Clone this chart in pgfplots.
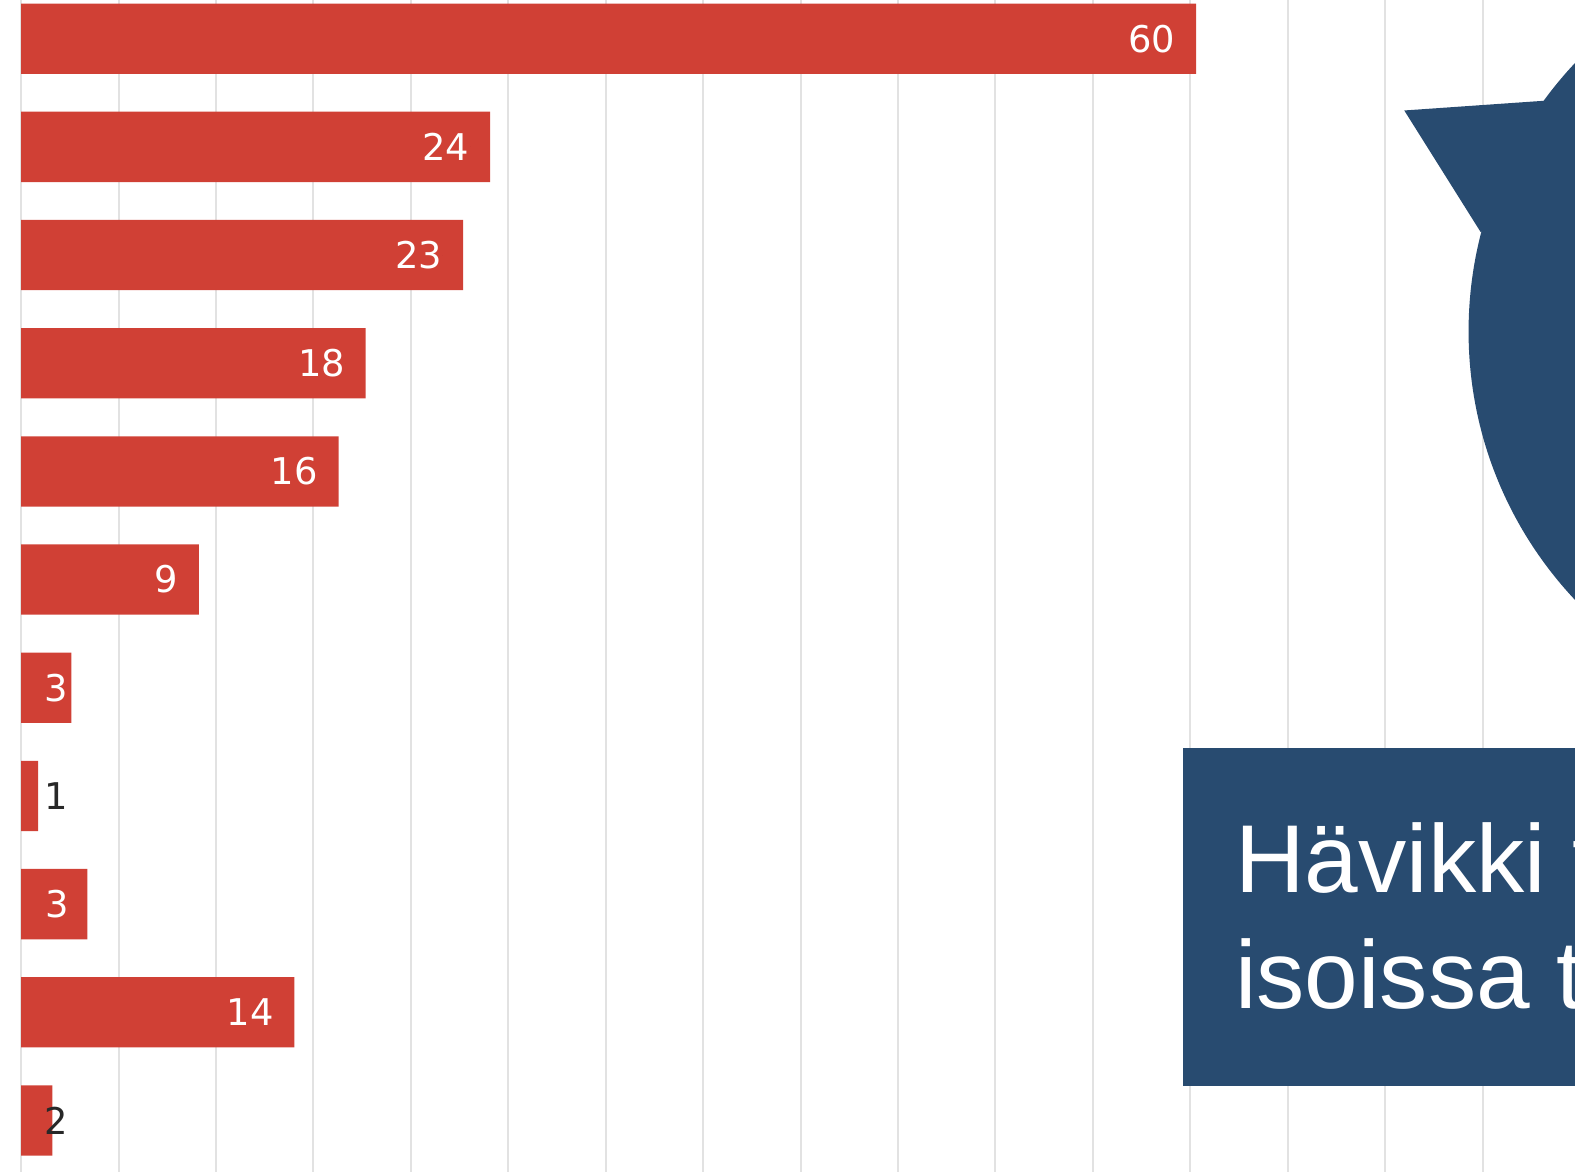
\documentclass[border=0pt]{standalone}
\usepackage{pgfplots}
\pgfplotsset{compat=1.18}
\usepackage{fontspec}
\setmainfont{DejaVu Sans}
\newfontfamily\arialfont{Liberation Sans}
\definecolor{barred}{RGB}{208,64,53}
\definecolor{navy}{RGB}{40,75,112}
\definecolor{gridgray}{RGB}{226,226,226}
\definecolor{darktext}{RGB}{40,40,40}
\begin{document}
\begin{tikzpicture}
\path[use as bounding box] (0,0) rectangle (470.4pt,350.1pt);
\clip (0,0) rectangle (470.4pt,350.1pt);
\begin{axis}[
  at={(0,0)}, anchor=south west,
  scale only axis, width=470.4pt, height=350.1pt,
  xmin=-1.0825, xmax=79.742,
  ymin=-0.3575, ymax=10.478,
  y dir=reverse,
  axis line style={draw=none},
  tick style={draw=none},
  xtick={0,5,...,75}, xticklabels={},
  ytick=\empty,
  xmajorgrids,
  major grid style={gridgray, line width=0.6pt},
  clip=false,
]
\addplot[xbar, bar width=21pt, fill=barred, draw=none] coordinates {
  (60.3,0) (24.07,1) (22.68,2) (17.68,3) (16.29,4) (9.12,5)
  (2.58,6) (0.88,7) (3.40,8) (14.02,9) (1.60,10)};
% labels inside the bar end
\addplot[only marks, mark=*, mark size=0pt, mark options={draw=none},
  point meta=explicit symbolic, nodes near coords,
  nodes near coords style={anchor=east, text=white, inner sep=0pt,
    font=\fontsize{11}{13}\selectfont}]
  coordinates {(59.27,0) [60] (23.04,1) [24] (21.65,2) [23] (16.65,3) [18]
    (15.26,4) [16] (8.09,5) [9] (12.99,9) [14]};
% labels of small bars (white)
\addplot[only marks, mark=*, mark size=0pt, mark options={draw=none},
  point meta=explicit symbolic, nodes near coords,
  nodes near coords style={anchor=center, text=white, inner sep=0pt,
    font=\fontsize{11}{13}\selectfont}]
  coordinates {(1.80,6) [3] (1.85,8) [3]};
% labels of small bars (dark)
\addplot[only marks, mark=*, mark size=0pt, mark options={draw=none},
  point meta=explicit symbolic, nodes near coords,
  nodes near coords style={anchor=center, text=darktext, inner sep=0pt,
    font=\fontsize{11}{13}\selectfont}]
  coordinates {(1.80,7) [1] (1.80,10) [2]};
\end{axis}
\begin{scope}[x=0.3pt, y=-0.3pt, shift={(0pt,350.1pt)}]
  \fill[navy] (1852,330) circle[radius=117pt];
  \fill[navy] (1398,110) -- (1542,100) -- (1600,180) -- (1474,231) -- cycle;
  \fill[navy] (1178,745) rectangle (1700,1081);
  \node[anchor=base west, inner sep=0pt, text=white,
    font=\arialfont\fontsize{28.8}{34}\selectfont] at (1229,889) {Hävikki t};
  \node[anchor=base west, inner sep=0pt, text=white,
    font=\arialfont\fontsize{28.8}{34}\selectfont] at (1229,1004) {isoissa t};
\end{scope}
\end{tikzpicture}
\end{document}
